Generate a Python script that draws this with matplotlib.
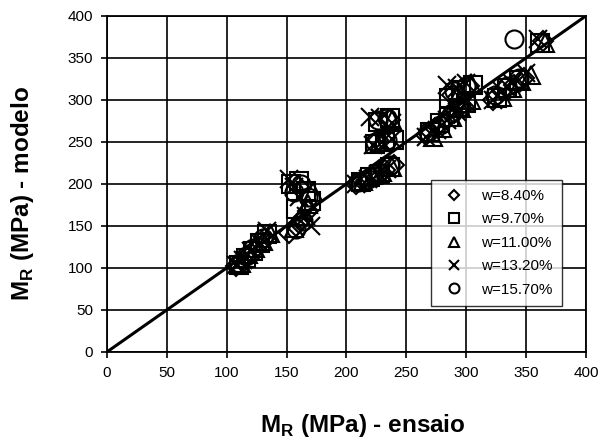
import matplotlib
matplotlib.use("Agg")
import matplotlib.pyplot as plt

plt.rcParams['font.family'] = ['Liberation Sans', 'DejaVu Sans']
plt.rcParams['mathtext.fontset'] = 'custom'
plt.rcParams['mathtext.rm'] = 'Liberation Sans'

# measured (ensaio) vs predicted (modelo) resilient modulus, MPa
labels = ['w=8.40%', 'w=9.70%', 'w=11.00%', 'w=13.20%', 'w=15.70%']
markers = ['D', 's', '^', 'x', 'o']

x_84 = [108, 114, 120, 126, 132, 152, 158, 163, 168, 160, 208, 216, 224, 232, 240,
        226, 236, 266, 274, 282, 290, 298, 288, 302, 322, 330, 340, 348, 364]
y_84 = [102, 110, 118, 126, 136, 142, 150, 158, 168, 196, 200, 204, 210, 216, 222,
        252, 276, 258, 266, 276, 284, 292, 306, 316, 300, 310, 318, 326, 370]

x_97 = [110, 116, 122, 128, 134, 154, 160, 166, 170, 158, 212, 220, 228, 236, 224, 232,
        240, 226, 236, 270, 278, 286, 294, 300, 286, 296, 306, 326, 334, 344, 362]
y_97 = [104, 112, 120, 130, 140, 200, 204, 192, 180, 170, 202, 208, 212, 220, 248, 250,
        252, 274, 278, 262, 272, 280, 290, 296, 302, 312, 318, 302, 314, 324, 368]

x_110 = [112, 118, 124, 130, 136, 156, 162, 168, 172, 214, 222, 230, 238, 228, 238,
         272, 280, 288, 296, 304, 294, 304, 330, 338, 346, 354, 366]
y_110 = [106, 116, 124, 132, 142, 148, 162, 176, 190, 204, 210, 214, 220, 250, 276,
         256, 266, 280, 290, 300, 308, 320, 304, 314, 322, 330, 368]

x_132 = [108, 114, 120, 128, 134, 152, 156, 160, 166, 170, 208, 218, 226, 234, 222, 230,
         238, 220, 228, 238, 266, 276, 284, 292, 300, 284, 292, 300, 322, 330, 338, 350, 360]
y_132 = [104, 110, 120, 130, 144, 206, 196, 184, 162, 150, 200, 206, 212, 218, 246, 250,
         254, 280, 278, 272, 256, 264, 276, 286, 296, 318, 314, 320, 300, 310, 320, 332, 372]

x_157 = [110, 116, 122, 130, 156, 162, 168, 164, 158, 210, 218, 226, 236, 224, 234,
         226, 234, 268, 278, 288, 296, 290, 300, 324, 334, 344, 340]
y_157 = [106, 114, 124, 136, 190, 200, 184, 156, 146, 202, 206, 214, 222, 250, 252,
         276, 278, 262, 270, 284, 292, 310, 316, 306, 316, 326, 372]

xs = [x_84, x_97, x_110, x_132, x_157]
ys = [y_84, y_97, y_110, y_132, y_157]

fig = plt.figure(figsize=(6.01, 4.41), dpi=100)
ax = fig.add_axes([0.178, 0.202, 0.797, 0.762])

# line of equality
ax.plot([0, 400], [0, 400], color='black', lw=2.2, zorder=2)

for x, y, m, lab in zip(xs, ys, markers, labels):
    ms = 13 if m != 'D' else 10
    ax.plot(x, y, linestyle='none', marker=m, markersize=ms,
            markerfacecolor='none', markeredgecolor='black',
            markeredgewidth=1.5, color='black', label=lab, zorder=3)

ax.set_xlim(0, 400)
ax.set_ylim(0, 400)
ax.set_xticks(range(0, 401, 50))
ax.set_yticks(range(0, 401, 50))
ax.grid(True, color='black', lw=1.2)
ax.set_axisbelow(True)
for s in ax.spines.values():
    s.set_linewidth(1.3)
ax.tick_params(direction='out', length=4, width=1.2, labelsize=11, pad=6)

ax.set_xlabel(r'M$_{\mathregular{R}}$ (MPa) - ensaio', fontsize=17.5,
              fontweight='bold')
ax.xaxis.set_label_coords(0.535, -0.18)
ax.set_ylabel(r'M$_{\mathregular{R}}$ (MPa) - modelo', fontsize=17.5,
              fontweight='bold')
ax.yaxis.set_label_coords(-0.148, 0.47)

leg = ax.legend(loc='upper left', bbox_to_anchor=(0.66, 0.535),
                frameon=True, fancybox=False, edgecolor='black',
                fontsize=11, markerscale=0.55, handletextpad=0.9,
                labelspacing=0.62, borderpad=0.6, handlelength=1.8)
leg.get_frame().set_linewidth(1.0)
leg.set_zorder(5)

fig.savefig('out.png', dpi=100)
